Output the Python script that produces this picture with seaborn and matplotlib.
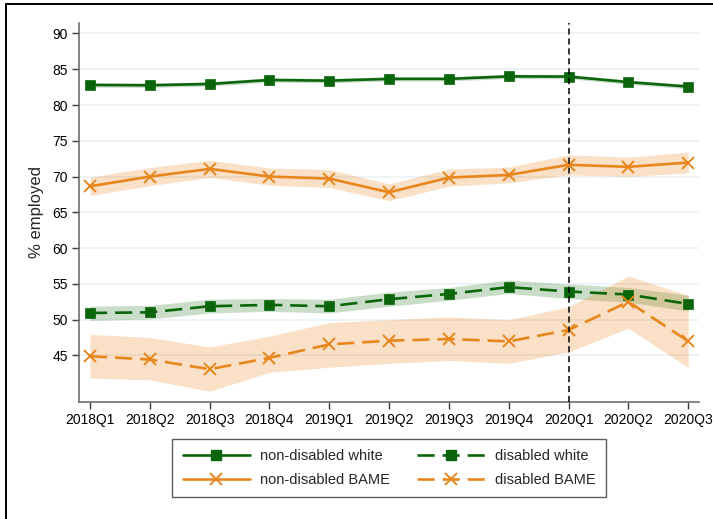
import matplotlib
matplotlib.use("Agg")
import matplotlib.pyplot as plt
import seaborn as sns
import pandas as pd
from matplotlib.patches import Rectangle
from matplotlib.lines import Line2D

quarters = ["2018Q1", "2018Q2", "2018Q3", "2018Q4", "2019Q1", "2019Q2",
            "2019Q3", "2019Q4", "2020Q1", "2020Q2", "2020Q3"]

nd_white = [82.8, 82.76, 82.94, 83.5, 83.4, 83.65, 83.65, 84.0, 83.97, 83.2, 82.57]
nd_white_lo = [82.5, 82.46, 82.64, 83.2, 83.1, 83.35, 83.35, 83.7, 83.67, 82.9, 82.27]
nd_white_hi = [83.1, 83.06, 83.24, 83.8, 83.7, 83.95, 83.95, 84.3, 84.27, 83.5, 82.87]

nd_bame = [68.64, 70.0, 71.07, 70.0, 69.72, 67.8, 69.86, 70.23, 71.64, 71.36, 71.96]
nd_bame_lo = [67.36, 68.74, 69.87, 68.8, 68.46, 66.63, 68.66, 69.13, 70.24, 70.01, 70.51]
nd_bame_hi = [69.92, 71.26, 72.27, 71.2, 70.98, 68.97, 71.06, 71.33, 73.04, 72.71, 73.41]

d_white = [50.94, 51.03, 51.88, 52.07, 51.88, 52.86, 53.6, 54.55, 53.94, 53.52, 52.2]
d_white_lo = [49.9, 50.1, 50.94, 51.17, 50.94, 51.88, 52.72, 53.66, 52.96, 52.44, 51.22]
d_white_hi = [51.9, 52.0, 52.86, 52.96, 52.86, 53.85, 54.5, 55.54, 54.98, 54.5, 53.43]

d_bame = [44.9, 44.44, 43.08, 44.67, 46.55, 47.07, 47.3, 46.97, 48.57, 52.5, 47.0]
d_bame_lo = [41.85, 41.6, 40.0, 42.65, 43.36, 43.9, 44.3, 43.9, 45.5, 48.8, 43.3]
d_bame_hi = [47.96, 47.5, 46.2, 47.7, 49.6, 50.0, 50.4, 50.0, 51.8, 56.1, 53.4]

y_ticks = [45, 50, 55, 60, 65, 70, 75, 80, 85, 90]
covid_start = "2020Q1"

GREEN = "#0b660b"
ORANGE = "#e8861c"
DASH = (6.5, 3.0)

sns.set_theme(style="white")
plt.rcParams["font.family"] = ["Liberation Sans", "DejaVu Sans"]

fig = plt.figure(figsize=(7.13, 5.19), dpi=100)
ax = fig.add_axes([79 / 713, 1 - 402 / 519, (699 - 79) / 713, (402 - 22.7) / 519])

x = list(range(len(quarters)))

series = [
    ("non-disabled white", nd_white, nd_white_lo, nd_white_hi, GREEN, "s", None, 0.22),
    ("disabled white", d_white, d_white_lo, d_white_hi, GREEN, "s", DASH, 0.22),
    ("non-disabled BAME", nd_bame, nd_bame_lo, nd_bame_hi, ORANGE, "x", None, 0.25),
    ("disabled BAME", d_bame, d_bame_lo, d_bame_hi, ORANGE, "x", DASH, 0.25),
]

# confidence bands first, lines on top
for name, vals, lo, hi, col, mk, dash, a in series:
    ax.fill_between(x, lo, hi, color=col, alpha=a, linewidth=0, zorder=1)

for name, vals, lo, hi, col, mk, dash, a in series:
    df = pd.DataFrame({"q": x, "v": vals})
    sns.lineplot(data=df, x="q", y="v", ax=ax, color=col, linewidth=1.9,
                 marker=mk, markersize=7 if mk == "s" else 8,
                 markeredgewidth=1.4 if mk == "x" else 0.5,
                 markeredgecolor=col, markerfacecolor=col, zorder=3)
    if dash is not None:
        ax.lines[-1].set_dashes(dash)

ax.axvline(quarters.index(covid_start), color="black", linestyle=(0, (4, 2.5)),
           linewidth=1.1, zorder=4)

ax.set_xlim(-0.184, 10.18)
ax.set_ylim(38.5, 91.5)
ax.set_xticks(x)
ax.set_xticklabels(quarters, fontsize=10)
ax.set_yticks(y_ticks)
ax.set_yticklabels([str(t) for t in y_ticks], fontsize=10)
ax.set_xlabel("")
ax.set_ylabel("% employed", fontsize=12, labelpad=6)

for yv in y_ticks:
    ax.axhline(yv, color="#e9f0f2", linewidth=1.1, zorder=0)

for s in ["top", "right"]:
    ax.spines[s].set_visible(False)
for s in ["left", "bottom"]:
    ax.spines[s].set_color("#6e6e6e")
    ax.spines[s].set_linewidth(1.2)
ax.tick_params(axis="both", which="both", direction="out", length=5, width=1,
               color="#3a3a3a", left=True, bottom=True, pad=3, labelcolor="black")

handles = [
    Line2D([], [], color=GREEN, lw=1.9, marker="s", markersize=7),
    Line2D([], [], color=GREEN, lw=1.9, marker="s", markersize=7, dashes=DASH),
    Line2D([], [], color=ORANGE, lw=1.9, marker="x", markersize=8, markeredgewidth=1.4),
    Line2D([], [], color=ORANGE, lw=1.9, marker="x", markersize=8, markeredgewidth=1.4,
           dashes=DASH),
]
labels = [s[0] for s in series]
order = [0, 2, 1, 3]
leg = fig.legend([handles[i] for i in order], [labels[i] for i in order],
                 loc="center", bbox_to_anchor=(389 / 713, 1 - 468 / 519), ncol=2,
                 fontsize=10.5, handlelength=4.6, handletextpad=0.7, columnspacing=1.9,
                 frameon=True, fancybox=False, edgecolor="#333333",
                 borderpad=0.7, labelspacing=0.7)
leg.get_frame().set_linewidth(1.0)

fig.patches.append(Rectangle((6 / 713, -0.1), 1.2, 1.1 - 4.5 / 519,
                             transform=fig.transFigure, fill=False,
                             edgecolor="black", linewidth=1.4, zorder=0))

fig.savefig("out.png", dpi=100)
